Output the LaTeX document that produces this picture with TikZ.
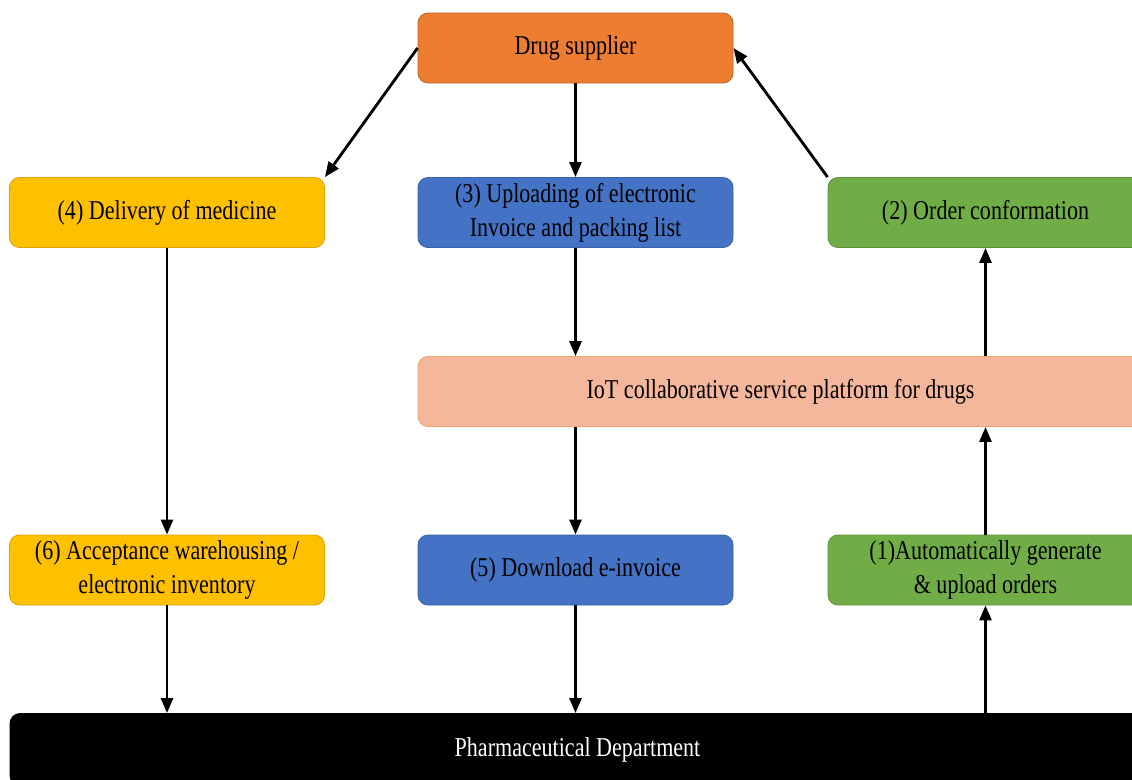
\documentclass[tikz,border=0pt]{standalone}
\usepackage{fontspec}
\setmainfont[FakeStretch=0.81]{Liberation Serif}
\usetikzlibrary{arrows.meta, positioning}

\definecolor{supOrange}{HTML}{ED7D31}
\definecolor{stepGold}{HTML}{FFC000}
\definecolor{stepBlue}{HTML}{4472C4}
\definecolor{stepGreen}{HTML}{70AD47}
\definecolor{iotPeach}{HTML}{F5B79C}

\begin{document}
\begin{tikzpicture}[
    box/.style={draw, rounded corners=0.2cm, minimum width=6.3cm, minimum height=1.4cm, inner sep=0pt, align=center, line width=0.5pt, font=\fontsize{15.5}{19.3}\selectfont},
    arrow/.style={-{Triangle[length=3mm, width=2.4mm]}, line width=1.6pt}
]

\useasboundingbox (0,0) rectangle (22.64,-15.58);

% Boxes
\node[box, fill=supOrange, draw=supOrange!80!black] (supplier) at (11.51,-0.96) {Drug supplier};
\node[box, fill=stepGold, draw=stepGold!85!black] (delivery) at (3.34,-4.25) {(4) Delivery of medicine};
\node[box, fill=stepBlue, draw=stepBlue!85!black] (upload) at (11.51,-4.25) {(3) Uploading of electronic\\Invoice and packing list};
\node[box, fill=stepGreen, draw=stepGreen!85!black] (confirm) at (19.71,-4.25) {(2) Order conformation};
\node[box, fill=iotPeach, draw=supOrange!70, minimum width=14.5cm] (platform) at (15.61,-7.83) {IoT collaborative service platform for drugs};
\node[box, fill=stepGold, draw=stepGold!85!black] (accept) at (3.34,-11.40) {(6) Acceptance warehousing /\\electronic inventory};
\node[box, fill=stepBlue, draw=stepBlue!85!black] (download) at (11.51,-11.40) {(5) Download e-invoice};
\node[box, fill=stepGreen, draw=stepGreen!85!black] (generate) at (19.71,-11.40) {(1)Automatically generate\\\& upload orders};
\node[box, fill=black, text=white, minimum width=22.7cm, minimum height=1.44cm] (dept) at (11.55,-14.99) {Pharmaceutical Department};

% Arrows from the supplier
\draw[arrow] (supplier.west) -- (delivery.north east);
\draw[arrow] (supplier.south) -- (upload.north);
\draw[arrow] (confirm.north west) -- (supplier.east);

% Vertical arrows, left and middle
\draw[arrow] (delivery.south) -- (accept.north);
\draw[arrow] (upload.south) -- (upload.south |- platform.north);
\draw[arrow] (download.north |- platform.south) -- (download.north);
\draw[arrow] (accept.south) -- (accept.south |- dept.north);
\draw[arrow] (download.south) -- (download.south |- dept.north);

% Vertical arrows, right
\draw[arrow] (generate.south |- dept.north) -- (generate.south);
\draw[arrow] (generate.north) -- (generate.north |- platform.south);
\draw[arrow] (confirm.south |- platform.north) -- (confirm.south);

\end{tikzpicture}
\end{document}
